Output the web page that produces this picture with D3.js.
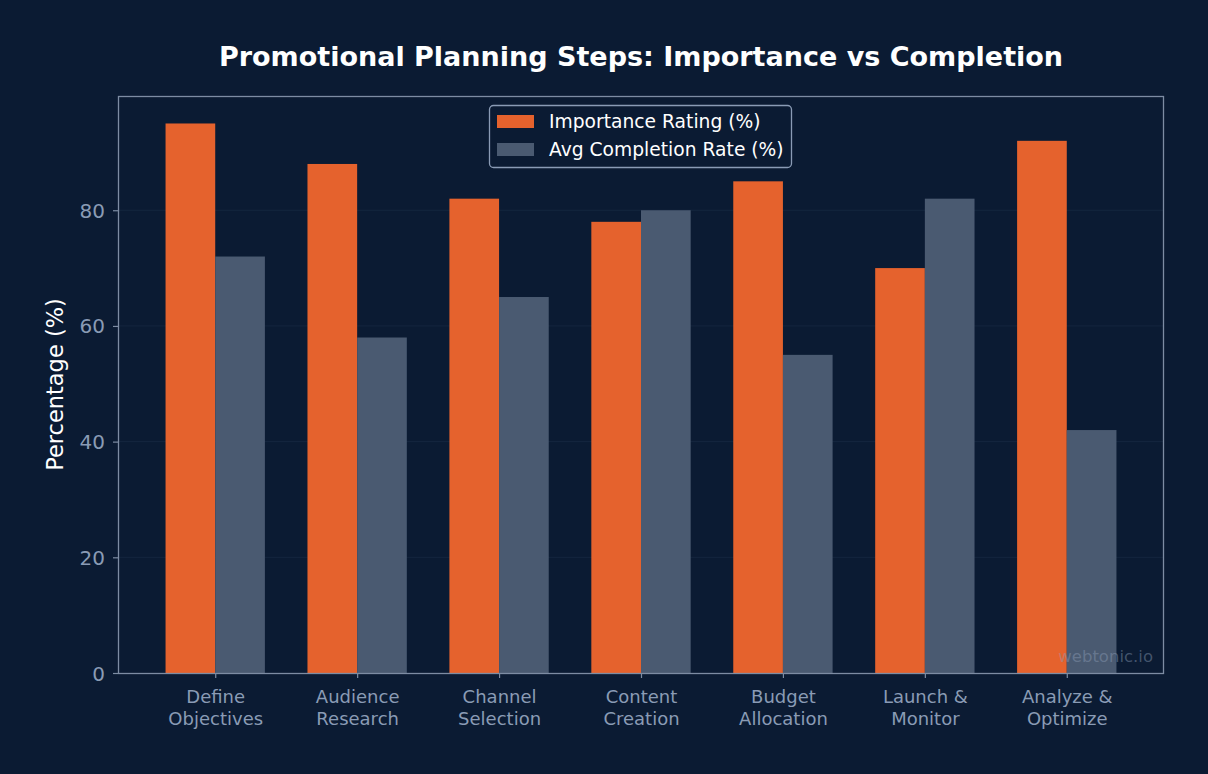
<!DOCTYPE html>
<html>
<head>
<meta charset="utf-8">
<script src="https://cdn.jsdelivr.net/npm/d3@7"></script>
<style>
  html, body { margin: 0; padding: 0; background: #0b1b33; }
  svg text { font-family: "DejaVu Sans", sans-serif; }
</style>
</head>
<body>
<svg id="chart" width="1208" height="774"></svg>
<script>
var steps = [
  ['Define', 'Objectives'],
  ['Audience', 'Research'],
  ['Channel', 'Selection'],
  ['Content', 'Creation'],
  ['Budget', 'Allocation'],
  ['Launch &', 'Monitor'],
  ['Analyze &', 'Optimize']
];
var importance = [95, 88, 82, 78, 85, 70, 92];
var completion = [72, 58, 65, 80, 55, 82, 42];
var seriesNames = ['Importance Rating (%)', 'Avg Completion Rate (%)'];
var seriesColors = ['#e5622d', '#4a5a71'];
var yTicks = [0, 20, 40, 60, 80];

var margin = { left: 118, right: 1164, top: 96, bottom: 673 };
var svg = d3.select('#chart');

svg.append('rect')
  .attr('width', 1208).attr('height', 774)
  .attr('fill', '#0b1b33');

var barW = 0.35;
var x = d3.scaleLinear()
  .domain([-0.685, steps.length - 1 + 0.685])
  .range([margin.left, margin.right]);
var y = d3.scaleLinear()
  .domain([0, d3.max(importance) * 1.05])
  .range([margin.bottom, margin.top]);

// grid
svg.append('g').selectAll('line')
  .data(yTicks.filter(function(t) { return t > 0; }))
  .enter().append('line')
  .attr('x1', margin.left).attr('x2', margin.right)
  .attr('y1', function(t) { return y(t); })
  .attr('y2', function(t) { return y(t); })
  .attr('stroke', '#15263f')
  .attr('stroke-width', 1);

// bars
var series = [importance, completion];
series.forEach(function(vals, s) {
  svg.append('g').selectAll('rect')
    .data(vals)
    .enter().append('rect')
    .attr('x', function(d, i) { return x(i + (s === 0 ? -barW : 0)); })
    .attr('width', x(barW) - x(0))
    .attr('y', function(d) { return y(d); })
    .attr('height', function(d) { return y(0) - y(d); })
    .attr('fill', seriesColors[s]);
});

// frame
svg.append('rect')
  .attr('x', margin.left + 0.5).attr('y', margin.top + 0.5)
  .attr('width', margin.right - margin.left - 1)
  .attr('height', margin.bottom - margin.top)
  .attr('fill', 'none')
  .attr('stroke', '#7d8ca3')
  .attr('stroke-width', 1.3);

// y axis
var yAxis = svg.append('g')
  .attr('transform', 'translate(' + margin.left + ',0)')
  .call(d3.axisLeft(y).tickValues(yTicks).tickSize(5).tickPadding(8).tickFormat(d3.format('d')));
yAxis.select('.domain').remove();
yAxis.selectAll('line').attr('stroke', '#7d8ca3').attr('stroke-width', 1.2);
yAxis.selectAll('text')
  .attr('fill', '#8a9bb5')
  .style('font-size', '20px')
  .attr('dy', '0.35em');

// x axis
var xAxis = svg.append('g')
  .attr('transform', 'translate(0,' + margin.bottom + ')')
  .call(d3.axisBottom(x).tickValues(d3.range(steps.length)).tickSize(5).tickFormat(''));
xAxis.select('.domain').remove();
xAxis.selectAll('line').attr('stroke', '#7d8ca3').attr('stroke-width', 1.2);
xAxis.selectAll('.tick').each(function(d) {
  var t = d3.select(this).append('text')
    .attr('fill', '#8a9bb5')
    .attr('text-anchor', 'middle')
    .style('font-size', '18px');
  steps[d].forEach(function(line, k) {
    t.append('tspan').attr('x', 0).attr('y', 30 + k * 22).text(line);
  });
});

// axis label
svg.append('text')
  .attr('transform', 'translate(63,' + ((margin.top + margin.bottom) / 2) + ') rotate(-90)')
  .attr('text-anchor', 'middle')
  .attr('fill', '#ffffff')
  .style('font-size', '22.5px')
  .text('Percentage (%)');

// title
svg.append('text')
  .attr('x', (margin.left + margin.right) / 2)
  .attr('y', 66)
  .attr('text-anchor', 'middle')
  .attr('fill', '#ffffff')
  .style('font-size', '27px')
  .style('font-weight', 'bold')
  .text('Promotional Planning Steps: Importance vs Completion');

// legend
var legend = svg.append('g').attr('transform', 'translate(489,105)');
legend.append('rect')
  .attr('x', 0.5).attr('y', 0.5)
  .attr('width', 302).attr('height', 62)
  .attr('rx', 4)
  .attr('fill', '#0b1b33')
  .attr('stroke', '#8a9bb5')
  .attr('stroke-width', 1.3);
seriesNames.forEach(function(name, i) {
  legend.append('rect')
    .attr('x', 8).attr('y', 10 + i * 28)
    .attr('width', 37).attr('height', 13)
    .attr('fill', seriesColors[i]);
  legend.append('text')
    .attr('x', 60).attr('y', 23 + i * 28)
    .attr('fill', '#ffffff')
    .style('font-size', '18.7px')
    .text(name);
});

// watermark
svg.append('text')
  .attr('x', 1153).attr('y', 662)
  .attr('text-anchor', 'end')
  .attr('fill', '#8a9bb5')
  .attr('fill-opacity', 0.45)
  .style('font-size', '16.5px')
  .text('webtonic.io');
</script>
</body>
</html>
